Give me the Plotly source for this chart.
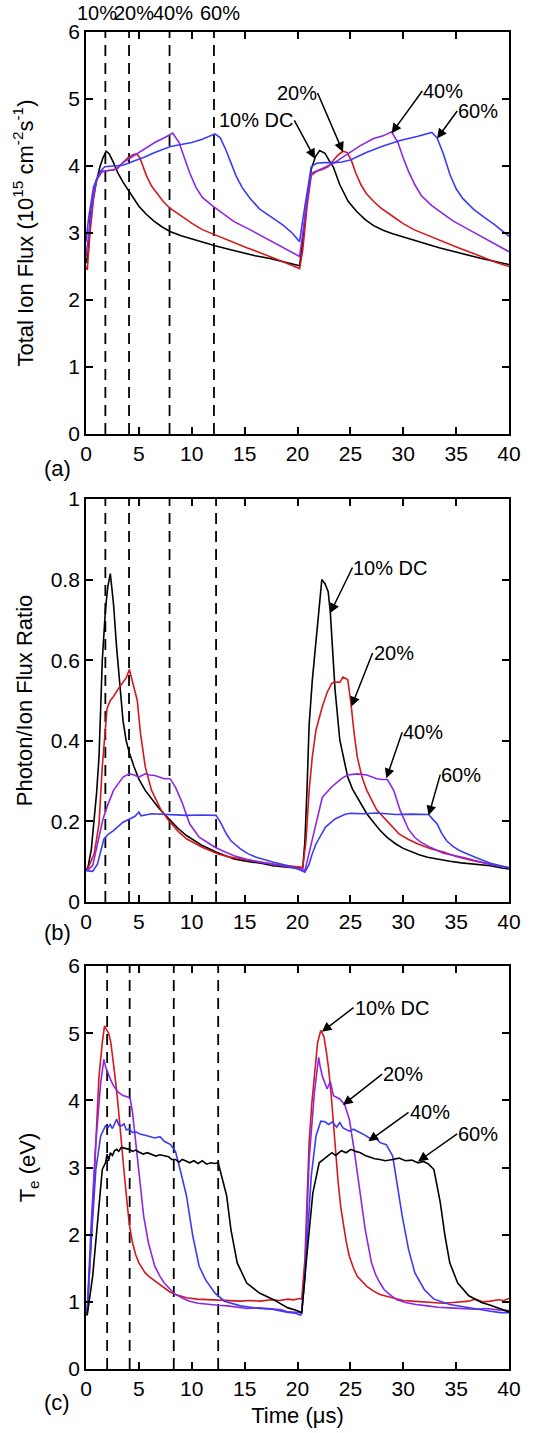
import plotly.graph_objects as go

# ---------------- data ----------------
# time axis shared by all panels (microseconds)
X_TICKS = [0, 5, 10, 15, 20, 25, 30, 35, 40]
DUTY_LABELS = ["10%", "20%", "40%", "60%"]

# pulse-off markers (dashed lines) per panel
PULSE_END_A = [1.83, 4.07, 7.9, 12.1]
PULSE_END_B = [1.83, 4.07, 7.9, 12.3]
PULSE_END_C = [2.0, 4.13, 8.3, 12.5]
TOP_LABEL_X = [1.0, 4.54, 8.23, 12.67]

# (a) total ion flux, 1e15 cm^-2 s^-1
FLUX_T_10 = [0, 0.2, 0.4, 0.87, 1.32, 1.6, 1.9, 2.2, 2.6, 3.0, 3.5, 4.0, 4.5, 5.0, 5.7, 6.4, 7.2, 8.0, 9.0, 10.0,
             11.0, 12.2, 13.4, 14.6, 16.0, 17.4, 18.8, 20.2, 20.5, 20.9, 21.3, 21.7, 22.1, 22.6, 23.0, 23.4, 24.0,
             24.8, 25.6, 26.4, 27.2, 28.1, 29.0, 30.0, 31.0, 32.2, 33.4, 34.6, 36.0, 37.4, 38.8, 40.0]
FLUX_10 = [2.55, 2.70, 3.24, 3.69, 3.99, 4.12, 4.22, 4.18, 4.05, 3.90, 3.76, 3.64, 3.50, 3.40, 3.28, 3.18, 3.09, 3.02,
           2.96, 2.91, 2.86, 2.81, 2.76, 2.71, 2.66, 2.62, 2.57, 2.51, 2.90, 3.49, 3.95, 4.14, 4.23, 4.19, 4.08, 3.98,
           3.72, 3.47, 3.32, 3.20, 3.11, 3.04, 2.99, 2.94, 2.89, 2.84, 2.78, 2.73, 2.67, 2.62, 2.57, 2.53]

FLUX_T_20 = [0, 0.12, 0.38, 0.7, 1.0, 1.48, 1.95, 2.5, 2.9, 3.5, 4.0, 4.5, 4.8, 5.1, 5.7, 6.2, 6.7, 7.3, 7.94, 9.0,
             10.06, 11.0, 12.2, 13.5, 15.2, 16.4, 17.6, 18.8, 20.2, 20.5, 20.9, 21.3, 21.8, 22.4, 22.9, 23.4, 23.8,
             24.3, 24.7, 25.1, 25.5, 26.0, 26.5, 27.2, 27.9, 29.0, 30.0, 31.0, 32.2, 33.5, 35.2, 36.4, 37.6, 38.8, 40.0]
FLUX_20 = [2.50, 2.45, 3.00, 3.49, 3.79, 3.91, 3.93, 3.94, 3.96, 4.06, 4.13, 4.17, 4.18, 4.12, 3.86, 3.70, 3.59, 3.47,
           3.37, 3.25, 3.14, 3.05, 2.97, 2.89, 2.78, 2.71, 2.63, 2.56, 2.47, 2.75, 3.39, 3.86, 3.92, 3.95, 3.99, 4.08,
           4.16, 4.22, 4.20, 4.08, 3.90, 3.72, 3.59, 3.47, 3.37, 3.25, 3.14, 3.05, 2.97, 2.89, 2.78, 2.71, 2.63, 2.56,
           2.50]

FLUX_T_40 = [0, 0.3, 0.7, 1.0, 1.5, 2.0, 2.9, 3.5, 4.5, 5.5, 6.5, 7.5, 8.2, 8.8, 9.3, 9.8, 10.4, 11.0, 12.0, 13.0,
             14.0, 15.5, 17.0, 18.5, 20.2, 20.5, 20.9, 21.3, 21.8, 22.3, 23.4, 24.6, 25.9, 27.2, 28.1, 28.9, 29.5,
             30.0, 30.5, 31.1, 31.7, 32.7, 33.7, 34.7, 36.2, 37.7, 39.0, 40.0]
FLUX_40 = [2.65, 3.00, 3.55, 3.80, 3.92, 3.93, 3.95, 4.05, 4.15, 4.25, 4.35, 4.43, 4.49, 4.35, 4.12, 3.90, 3.68, 3.53,
           3.40, 3.28, 3.17, 3.05, 2.92, 2.79, 2.65, 3.00, 3.49, 3.89, 3.93, 3.96, 4.04, 4.16, 4.30, 4.41, 4.45, 4.51,
           4.35, 4.12, 3.92, 3.72, 3.56, 3.41, 3.29, 3.18, 3.05, 2.92, 2.80, 2.72]

FLUX_T_60 = [0, 0.26, 0.72, 1.31, 1.77, 2.5, 3.5, 4.6, 5.5, 6.5, 8.0, 9.0, 10.0, 11.0, 12.2, 12.7, 13.2, 13.7, 14.2,
             14.8, 15.5, 16.4, 17.5, 18.6, 19.5, 20.2, 20.5, 20.9, 21.3, 21.8, 22.5, 23.4, 24.2, 25.0, 26.5, 28.1,
             29.7, 31.3, 32.7, 33.2, 33.8, 34.4, 35.0, 35.6, 36.6, 37.6, 38.6, 40.0]
FLUX_60 = [2.87, 3.24, 3.69, 3.91, 3.99, 4.00, 4.01, 4.08, 4.13, 4.20, 4.29, 4.32, 4.35, 4.40, 4.48, 4.42, 4.25, 4.05,
           3.85, 3.67, 3.52, 3.36, 3.24, 3.12, 3.00, 2.87, 3.20, 3.59, 3.99, 4.04, 4.05, 4.05, 4.06, 4.09, 4.20, 4.30,
           4.38, 4.44, 4.50, 4.42, 4.18, 3.88, 3.66, 3.52, 3.36, 3.24, 3.13, 2.95]

# (b) photon / ion flux ratio
RATIO_T_10 = [0, 0.18, 0.5, 0.78, 1.0, 1.23, 1.54, 1.84, 2.05, 2.3, 2.6, 2.9, 3.2, 3.5, 3.8, 4.1, 4.55, 5.0, 5.6, 6.2,
              6.8, 7.4, 7.95, 8.7, 9.5, 10.3, 11.0, 12.3, 13.2, 14.0, 15.0, 15.8, 16.8, 17.65, 18.5, 19.3, 20.0,
              20.5, 20.7, 20.9, 21.1, 21.4, 21.75, 22.0, 22.3, 22.6, 22.9, 23.1, 23.3, 23.55, 24.0, 24.4, 24.75,
              25.2, 25.65, 26.1, 26.55, 27.2, 27.8, 28.5, 29.3, 30.0, 30.8, 31.5, 32.3, 33.3, 34.4, 35.5, 36.8,
              38.25, 39.2, 40.0]
RATIO_10 = [0.082, 0.085, 0.13, 0.20, 0.27, 0.36, 0.60, 0.726, 0.78, 0.815, 0.74, 0.63, 0.53, 0.45, 0.40, 0.37, 0.335,
            0.305, 0.277, 0.255, 0.236, 0.218, 0.203, 0.183, 0.165, 0.152, 0.14, 0.124, 0.116, 0.107, 0.102, 0.099,
            0.095, 0.09, 0.088, 0.086, 0.084, 0.085, 0.15, 0.28, 0.44, 0.55, 0.65, 0.72, 0.80, 0.79, 0.77, 0.72, 0.63,
            0.527, 0.402, 0.35, 0.31, 0.28, 0.26, 0.238, 0.219, 0.197, 0.178, 0.16, 0.144, 0.133, 0.124, 0.117,
            0.111, 0.106, 0.101, 0.097, 0.094, 0.09, 0.085, 0.082]

RATIO_T_20 = [0, 0.18, 0.78, 1.23, 1.54, 1.8, 1.99, 2.3, 2.6, 3.2, 3.8, 4.1, 4.4, 4.85, 5.15, 5.6, 6.2, 7.1, 7.95, 8.7,
              9.5, 10.3, 11.0, 12.5, 13.5, 14.6, 16.4, 18.0, 19.1, 20.0, 20.5, 20.8, 21.1, 21.4, 21.75, 22.35, 22.8,
              23.25, 23.6, 24.0, 24.3, 24.75, 25.05, 25.35, 25.65, 26.1, 26.55, 27.5, 28.4, 29.6, 30.5, 31.4, 32.6,
              33.8, 35.0, 36.5, 38.25, 40.0]
RATIO_20 = [0.082, 0.083, 0.12, 0.194, 0.336, 0.43, 0.48, 0.50, 0.51, 0.535, 0.556, 0.577, 0.543, 0.50, 0.419, 0.336,
            0.277, 0.228, 0.198, 0.176, 0.157, 0.146, 0.136, 0.119, 0.112, 0.107, 0.099, 0.093, 0.09, 0.087, 0.086,
            0.15, 0.277, 0.36, 0.427, 0.485, 0.52, 0.543, 0.546, 0.545, 0.558, 0.552, 0.494, 0.42, 0.36, 0.31, 0.277,
            0.228, 0.202, 0.169, 0.155, 0.144, 0.132, 0.124, 0.113, 0.103, 0.094, 0.085]

RATIO_T_40 = [0, 0.18, 0.63, 1.23, 1.6, 1.99, 2.6, 3.5, 4.1, 4.5, 5.0, 5.6, 6.0, 6.5, 7.0, 7.4, 7.95, 8.46, 9.07, 9.8,
              10.7, 11.5, 12.2, 13.0, 14.0, 15.2, 16.4, 17.8, 19.1, 20.0, 20.4, 20.7, 21.1, 21.75, 22.35, 23.25,
              24.15, 24.75, 25.65, 26.55, 27.5, 28.0, 28.5, 29.1, 29.7, 30.5, 31.1, 31.7, 32.6, 33.8, 35.6, 37.0,
              38.25, 40.0]
RATIO_40 = [0.08, 0.08, 0.09, 0.16, 0.205, 0.236, 0.277, 0.31, 0.318, 0.316, 0.31, 0.318, 0.315, 0.314, 0.309, 0.306,
            0.306, 0.285, 0.248, 0.194, 0.161, 0.147, 0.136, 0.126, 0.115, 0.106, 0.099, 0.093, 0.088, 0.084, 0.082,
            0.078, 0.12, 0.194, 0.26, 0.286, 0.306, 0.315, 0.318, 0.315, 0.306, 0.304, 0.304, 0.277, 0.228, 0.18,
            0.16, 0.148, 0.135, 0.121, 0.111, 0.101, 0.093, 0.085]

RATIO_T_60 = [0, 0.18, 0.63, 1.08, 1.4, 1.69, 2.1, 2.6, 3.5, 4.1, 4.6, 5.0, 5.2, 6.2, 7.7, 9.5, 11.0, 12.3, 12.8,
              13.25, 13.7, 14.6, 15.3, 16.1, 17.65, 19.1, 20.2, 20.7, 21.1, 21.4, 21.75, 22.2, 22.65, 23.55, 24.45,
              25.0, 26.3, 27.5, 29.3, 30.8, 32.4, 32.8, 33.2, 33.6, 34.1, 34.7, 35.3, 36.8, 38.25, 40.0]
RATIO_60 = [0.078, 0.077, 0.076, 0.094, 0.13, 0.156, 0.168, 0.177, 0.198, 0.206, 0.212, 0.223, 0.214, 0.219, 0.217,
            0.215, 0.216, 0.215, 0.194, 0.17, 0.152, 0.132, 0.12, 0.111, 0.099, 0.09, 0.08, 0.074, 0.094, 0.12,
            0.144, 0.166, 0.186, 0.206, 0.217, 0.22, 0.219, 0.221, 0.217, 0.218, 0.217, 0.205, 0.194, 0.172, 0.152,
            0.138, 0.128, 0.111, 0.096, 0.085]

# (c) electron temperature, eV
TE_T_10 = [0, 0.12, 0.48, 0.78, 1.0, 1.23, 1.54, 1.75, 1.95, 2.14, 2.35, 2.55, 2.74, 3.0, 3.19, 3.4, 3.64, 3.9, 4.1,
           4.4, 4.7, 5.0, 5.3, 5.6, 6.0, 6.5, 7.0, 7.4, 7.9, 8.46, 9.0, 9.5, 10.5, 11.6, 12.5, 13.5, 14.6, 15.5, 16.5,
           17.5, 18.3, 19.1, 19.6, 20.2, 20.4, 20.7, 20.9, 21.1, 21.35, 21.6, 21.9, 22.2, 22.5, 22.75, 22.95, 23.2,
           23.4, 23.65, 23.85, 24.1, 24.3, 24.6, 24.9, 25.3, 25.65, 26.1, 26.55, 27.2, 27.8, 28.5, 29.3, 30.0, 30.8,
           31.8, 32.9, 33.8, 34.7, 35.5, 36.2, 36.8, 37.5, 38.25, 39.0, 39.5, 40.0]
TE_10 = [0.84, 0.84, 1.88, 2.87, 3.7, 4.36, 4.86, 5.11, 5.05, 5.0, 4.86, 4.62, 4.36, 3.98, 3.62, 3.25, 2.87, 2.45, 2.15,
         1.88, 1.7, 1.58, 1.5, 1.43, 1.37, 1.31, 1.25, 1.21, 1.15, 1.11, 1.08, 1.06, 1.04, 1.03, 1.02, 1.01, 1.01,
         1.02, 1.01, 1.03, 1.02, 1.04, 1.03, 1.05, 1.04, 1.63, 2.5, 3.37, 3.95, 4.36, 4.86, 5.04, 4.95, 4.7, 4.46,
         4.05, 3.62, 3.2, 2.77, 2.4, 2.18, 1.9, 1.68, 1.5, 1.38, 1.3, 1.23, 1.16, 1.11, 1.08, 1.05, 1.02, 1.01, 1.0,
         0.99, 0.98, 0.99, 1.0, 1.01, 1.04, 1.0, 1.01, 1.03, 1.02, 1.05]

TE_T_20 = [0, 0.12, 0.48, 0.93, 1.39, 1.69, 1.85, 1.99, 2.29, 2.59, 3.04, 3.5, 3.9, 4.16, 4.4, 4.7, 5.0, 5.45, 5.9,
           6.5, 7.0, 7.4, 8.0, 8.46, 9.2, 9.8, 10.6, 11.6, 12.5, 13.4, 14.3, 15.2, 16.4, 17.65, 18.5, 19.1, 19.8,
           20.3, 20.4, 20.7, 21.1, 21.6, 22.0, 22.15, 22.35, 22.8, 23.1, 23.4, 23.7, 24.0, 24.45, 24.9, 25.35, 25.8,
           26.4, 27.0, 27.4, 27.8, 28.2, 28.7, 29.4, 30.2, 31.2, 32.3, 33.3, 34.4, 35.5, 36.8, 37.8, 38.25, 39.0,
           40.0]
TE_20 = [0.89, 0.89, 2.13, 3.37, 4.26, 4.61, 4.5, 4.44, 4.32, 4.22, 4.12, 4.07, 4.05, 4.04, 3.82, 3.37, 2.87, 2.28,
         1.88, 1.53, 1.38, 1.28, 1.18, 1.11, 1.05, 1.01, 0.98, 0.96, 0.95, 0.94, 0.92, 0.9, 0.91, 0.89, 0.88, 0.85,
         0.84, 0.84, 0.84, 1.38, 3.12, 4.12, 4.64, 4.5, 4.36, 4.17, 4.28, 4.07, 4.04, 4.02, 3.94, 3.72, 3.27, 2.77,
         2.08, 1.58, 1.4, 1.28, 1.18, 1.11, 1.03, 0.99, 0.96, 0.94, 0.92, 0.91, 0.9, 0.89, 0.9, 0.89, 0.88, 0.87]

TE_T_40 = [0, 0.12, 0.48, 0.93, 1.39, 1.84, 2.1, 2.29, 2.5, 2.74, 2.9, 3.1, 3.34, 3.6, 3.8, 4.1, 4.4, 4.7, 5.1, 5.6,
           6.0, 6.5, 7.0, 7.4, 8.0, 8.46, 8.9, 9.5, 10.1, 10.7, 11.3, 12.2, 13.1, 14.6, 16.4, 17.6, 19.1, 19.8, 20.3,
           20.4, 20.7, 21.3, 21.75, 22.2, 22.6, 22.95, 23.3, 23.7, 24.0, 24.3, 24.9, 25.3, 25.65, 26.3, 27.0, 27.4,
           27.8, 28.4, 29.0, 29.4, 29.9, 30.5, 31.1, 32.0, 32.9, 34.4, 36.2, 37.5, 38.25, 39.2, 40.0]
TE_40 = [0.86, 0.86, 1.88, 2.97, 3.47, 3.62, 3.6, 3.64, 3.58, 3.67, 3.72, 3.63, 3.62, 3.65, 3.56, 3.57, 3.52, 3.53,
         3.5, 3.48, 3.46, 3.44, 3.46, 3.39, 3.34, 3.24, 2.97, 2.58, 1.98, 1.53, 1.33, 1.13, 1.01, 0.94, 0.9, 0.89,
         0.84, 0.83, 0.8, 0.86, 1.38, 2.87, 3.47, 3.69, 3.68, 3.64, 3.68, 3.6, 3.67, 3.59, 3.54, 3.57, 3.54, 3.49,
         3.42, 3.44, 3.37, 3.34, 3.17, 2.77, 2.28, 1.78, 1.43, 1.18, 1.04, 0.96, 0.91, 0.88, 0.86, 0.84, 0.84]

TE_T_60 = [0, 0.12, 0.63, 1.08, 1.54, 1.84, 2.0, 2.14, 2.3, 2.5, 2.7, 2.89, 3.1, 3.34, 3.6, 3.9, 4.1, 4.4, 4.7, 5.0,
           5.4, 5.8, 6.2, 6.6, 7.0, 7.4, 7.8, 8.1, 8.46, 8.8, 9.1, 9.4, 9.8, 10.2, 10.6, 11.0, 11.4, 11.8, 12.2, 12.5,
           12.8, 13.3, 13.7, 14.3, 15.2, 16.4, 17.65, 18.5, 19.1, 19.8, 20.3, 20.4, 20.85, 21.45, 22.05, 22.65, 23.0,
           23.25, 23.6, 24.15, 24.6, 25.05, 25.5, 25.95, 26.4, 26.85, 27.3, 27.8, 28.3, 29.0, 29.6, 30.2, 30.8, 31.4,
           31.9, 32.4, 32.9, 33.5, 33.95, 34.4, 35.15, 36.2, 37.4, 38.25, 39.2, 40.0]
TE_60 = [0.81, 0.81, 1.38, 2.13, 2.97, 3.07, 3.2, 3.1, 3.22, 3.18, 3.25, 3.27, 3.24, 3.3, 3.29, 3.28, 3.27, 3.24, 3.26,
         3.23, 3.2, 3.22, 3.2, 3.17, 3.19, 3.17, 3.16, 3.12, 3.12, 3.08, 3.12, 3.1, 3.07, 3.1, 3.06, 3.1, 3.05, 3.07,
         3.06, 3.07, 2.87, 2.58, 2.08, 1.58, 1.28, 1.13, 1.04, 0.97, 0.91, 0.88, 0.85, 0.84, 1.63, 2.62, 3.07, 3.15,
         3.2, 3.22, 3.18, 3.25, 3.22, 3.27, 3.24, 3.22, 3.18, 3.15, 3.13, 3.12, 3.1, 3.12, 3.14, 3.1, 3.11, 3.07,
         3.09, 3.05, 2.97, 2.48, 1.98, 1.58, 1.28, 1.09, 0.99, 0.95, 0.9, 0.85]

# callouts: text, arrow start next to the label (x, y), which side of the label the arrow leaves from,
# and the arrow tip on the curve (x, y)
CALLOUT_TEXT = ["10% DC", "20%", "40%", "60%"]
CALLOUT_A_TAIL = [(19.7, 4.68), (21.9, 5.09), (31.8, 5.12), (35.1, 4.82)]
CALLOUT_A_SIDE = ["right", "right", "left", "left"]
CALLOUT_A_TIP = [(21.65, 4.11), (24.3, 4.21), (28.9, 4.49), (33.2, 4.41)]
CALLOUT_B_TAIL = [(25.2, 0.83), (27.1, 0.618), (29.9, 0.421), (33.5, 0.316)]
CALLOUT_B_SIDE = ["left", "left", "left", "left"]
CALLOUT_B_TIP = [(23.1, 0.717), (25.1, 0.485), (28.4, 0.307), (32.4, 0.215)]
CALLOUT_C_TAIL = [(25.3, 5.38), (28.0, 4.39), (30.5, 3.82), (35.1, 3.5)]
CALLOUT_C_SIDE = ["left", "left", "left", "left"]
CALLOUT_C_TIP = [(22.3, 5.02), (24.3, 3.93), (26.7, 3.39), (31.4, 3.09)]

# ---------------- styling ----------------
BLACK = "#000000"
RED = "#d3191d"
PURPLE = "#8b28e6"
BLUE = "#3b3cf2"
FONT = "Liberation Sans, Arial, sans-serif"
TICK_SIZE = 21
LABEL_SIZE = 20
TITLE_SIZE = 22

W, H = 545, 1433
X_DOMAIN = [86 / W, 509 / W]
Y_DOMAIN_A = [1 - 434 / H, 1 - 32 / H]
Y_DOMAIN_B = [1 - 902 / H, 1 - 499 / H]
Y_DOMAIN_C = [1 - 1369 / H, 1 - 966 / H]

fig = go.Figure()


def add_curve(t, v, color, xa, ya):
    assert len(t) == len(v)
    fig.add_trace(go.Scatter(x=t, y=v, mode="lines", line=dict(color=color, width=1.6),
                             xaxis=xa, yaxis=ya, showlegend=False, hoverinfo="skip"))


def add_markers(xs, ymax, xa, ya):
    for xv in xs:
        fig.add_trace(go.Scatter(x=[xv, xv], y=[0, ymax], mode="lines",
                                 line=dict(color=BLACK, width=1.8, dash="11px,7px"),
                                 xaxis=xa, yaxis=ya, showlegend=False, hoverinfo="skip"))


# dashed pulse-end markers first so curves sit on top
add_markers(PULSE_END_A, 6, "x", "y")
add_markers(PULSE_END_B, 1, "x2", "y2")
add_markers(PULSE_END_C, 6, "x3", "y3")

# panel (a)
add_curve(FLUX_T_10, FLUX_10, BLACK, "x", "y")
add_curve(FLUX_T_20, FLUX_20, RED, "x", "y")
add_curve(FLUX_T_40, FLUX_40, PURPLE, "x", "y")
add_curve(FLUX_T_60, FLUX_60, BLUE, "x", "y")
# panel (b)
add_curve(RATIO_T_10, RATIO_10, BLACK, "x2", "y2")
add_curve(RATIO_T_20, RATIO_20, RED, "x2", "y2")
add_curve(RATIO_T_40, RATIO_40, PURPLE, "x2", "y2")
add_curve(RATIO_T_60, RATIO_60, BLUE, "x2", "y2")
# panel (c)
add_curve(TE_T_10, TE_10, RED, "x3", "y3")
add_curve(TE_T_20, TE_20, PURPLE, "x3", "y3")
add_curve(TE_T_40, TE_40, BLUE, "x3", "y3")
add_curve(TE_T_60, TE_60, BLACK, "x3", "y3")

annotations = []


def add_callouts(tails, sides, tips, xr, yr):
    # the label box is anchored at the arrow's start, so the arrow leaves from its edge
    for text, (tx, ty), side, (px, py) in zip(CALLOUT_TEXT, tails, sides, tips):
        annotations.append(dict(x=px, y=py, ax=tx, ay=ty, xref=xr, yref=yr, axref=xr, ayref=yr,
                                text=text, xanchor=side, yanchor="middle", borderpad=0,
                                showarrow=True, arrowhead=2, arrowsize=1.3, arrowwidth=1.5,
                                arrowcolor=BLACK, standoff=0, startstandoff=0,
                                font=dict(family=FONT, size=LABEL_SIZE, color=BLACK)))


add_callouts(CALLOUT_A_TAIL, CALLOUT_A_SIDE, CALLOUT_A_TIP, "x", "y")
add_callouts(CALLOUT_B_TAIL, CALLOUT_B_SIDE, CALLOUT_B_TIP, "x2", "y2")
add_callouts(CALLOUT_C_TAIL, CALLOUT_C_SIDE, CALLOUT_C_TIP, "x3", "y3")

# duty-cycle labels above the top panel
for text, xv in zip(DUTY_LABELS, TOP_LABEL_X):
    annotations.append(dict(x=xv, y=1 - 13 / H, xref="x", yref="paper", text=text, showarrow=False,
                            xanchor="center", yanchor="middle",
                            font=dict(family=FONT, size=LABEL_SIZE, color=BLACK)))

# panel tags
for tag, py in [("(a)", 468), ("(b)", 932), ("(c)", 1402)]:
    annotations.append(dict(x=57 / W, y=1 - py / H, xref="paper", yref="paper", text=tag, showarrow=False,
                            xanchor="center", yanchor="middle",
                            font=dict(family=FONT, size=TITLE_SIZE, color=BLACK)))

title_font = dict(family=FONT, size=TITLE_SIZE, color=BLACK)
axis_common = dict(showgrid=False, zeroline=False, showline=True, linecolor=BLACK, linewidth=1.8,
                   mirror="ticks", ticks="inside", ticklen=7, tickwidth=1.5, tickcolor=BLACK,
                   tickfont=dict(family=FONT, size=TICK_SIZE, color=BLACK), automargin=False)

x_common = dict(axis_common, range=[0, 40], tickmode="array", tickvals=X_TICKS, domain=X_DOMAIN)

fig.update_layout(
    width=W, height=H, autosize=False,
    margin=dict(l=0, r=0, t=0, b=0, pad=0),
    paper_bgcolor="white", plot_bgcolor="white",
    font=dict(family=FONT, color=BLACK),
    xaxis=dict(x_common, anchor="y"),
    xaxis2=dict(x_common, anchor="y2"),
    xaxis3=dict(x_common, anchor="y3",
                title=dict(text="Time (\u03bcs)", font=title_font, standoff=9)),
    yaxis=dict(axis_common, range=[0, 6], dtick=1, tick0=0, domain=Y_DOMAIN_A, anchor="x",
               title=dict(text="Total Ion Flux (10<sup>15</sup> cm<sup>-2</sup>s<sup>-1</sup>)",
                          font=title_font, standoff=29)),
    yaxis2=dict(axis_common, range=[0, 1], dtick=0.2, tick0=0, domain=Y_DOMAIN_B, anchor="x2",
                title=dict(text="Photon/Ion Flux Ratio", font=title_font, standoff=12)),
    yaxis3=dict(axis_common, range=[0, 6], dtick=1, tick0=0, domain=Y_DOMAIN_C, anchor="x3",
                title=dict(text="T<sub>e</sub> (eV)", font=title_font, standoff=27)),
    annotations=annotations,
)

fig.write_html("out.html")
